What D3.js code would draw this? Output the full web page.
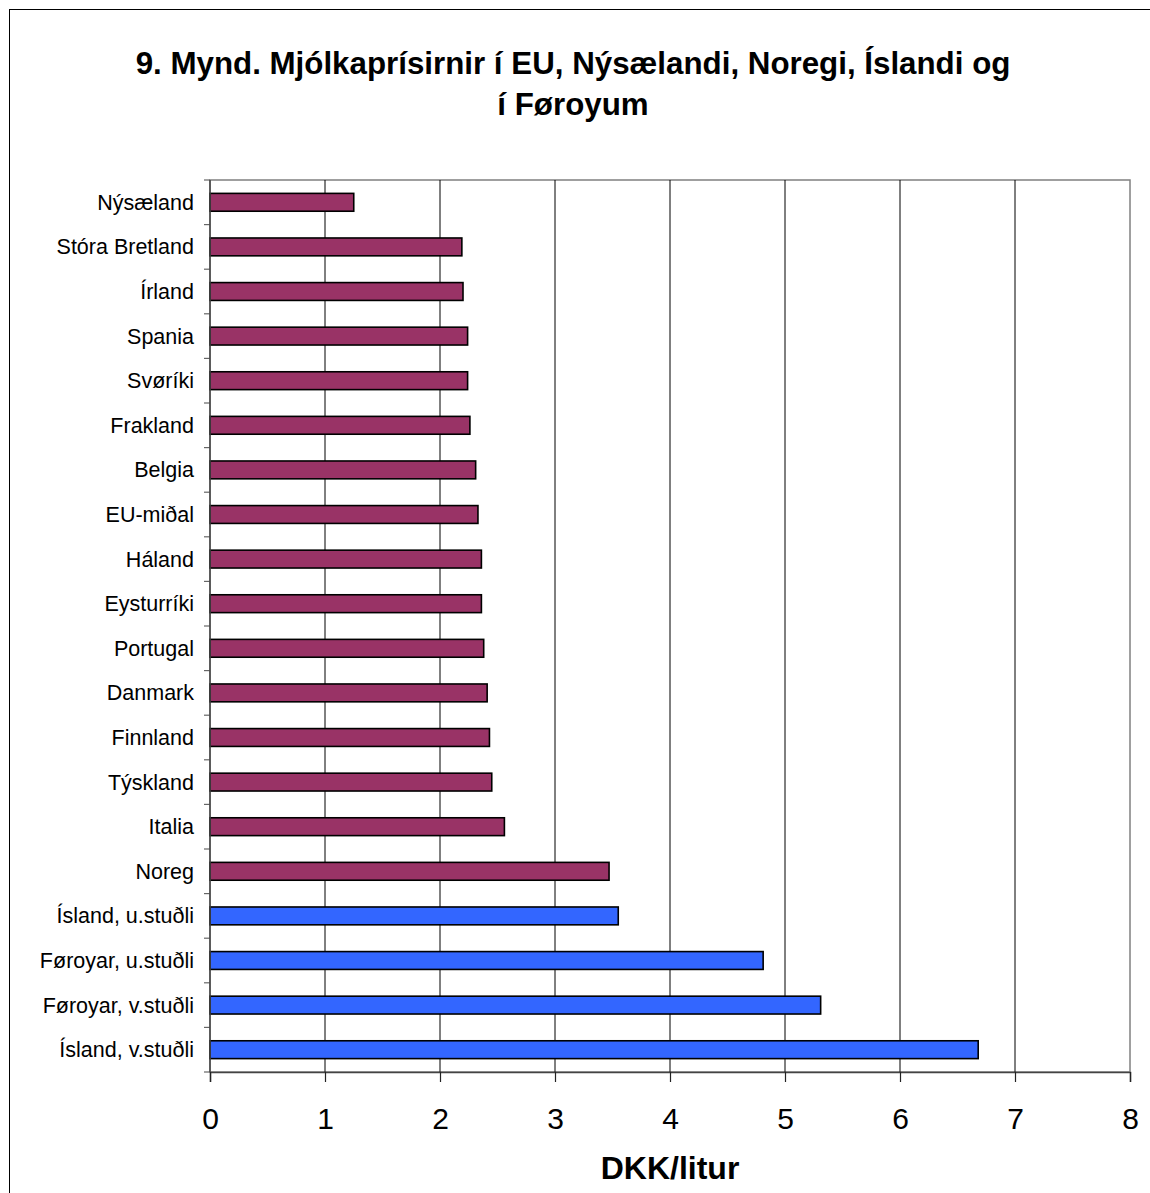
<!DOCTYPE html>
<html>
<head>
<meta charset="utf-8">
<script src="https://cdn.jsdelivr.net/npm/d3@7"></script>
<style>
  body { margin: 0; background: #fff; }
  svg text { font-family: "Liberation Sans", Arial, sans-serif; }
</style>
</head>
<body>
<svg id="chart" width="1150" height="1193"></svg>
<script>
// Data
var countries = ["Nýsæland", "Stóra Bretland", "Írland", "Spania", "Svøríki", "Frakland",
    "Belgia", "EU-miðal", "Háland", "Eysturríki", "Portugal", "Danmark", "Finnland",
    "Týskland", "Italia", "Noreg", "Ísland, u.stuðli", "Føroyar, u.stuðli",
    "Føroyar, v.stuðli", "Ísland, v.stuðli"];
var prices = [1.25, 2.19, 2.20, 2.24, 2.24, 2.26, 2.31, 2.33, 2.36, 2.36, 2.38, 2.41,
    2.43, 2.45, 2.56, 3.47, 3.55, 4.81, 5.31, 6.68];
var groups = ["other", "other", "other", "other", "other", "other", "other", "other",
    "other", "other", "other", "other", "other", "other", "other", "other",
    "fo", "fo", "fo", "fo"];
var xTicks = [0, 1, 2, 3, 4, 5, 6, 7, 8];
var titleLines = ["9. Mynd. Mjólkaprísirnir í EU, Nýsælandi, Noregi, Íslandi og", "í Føroyum"];
var xTitle = "DKK/litur";

var colors = { other: "#993366", fo: "#3366FF" };

var svg = d3.select("#chart");
var margin = { left: 210, right: 1130, top: 180, bottom: 1072 };

// outer frame
svg.append("rect")
    .attr("x", 9.5).attr("y", 9.5)
    .attr("width", 1160).attr("height", 1200)
    .attr("fill", "none").attr("stroke", "#000").attr("stroke-width", 1);

// title
svg.selectAll(".title")
    .data(titleLines)
    .enter().append("text")
    .attr("class", "title")
    .attr("x", 573)
    .attr("y", function(d, i) { return 74 + i * 41; })
    .attr("text-anchor", "middle")
    .attr("font-size", 31.3)
    .attr("font-weight", "bold")
    .text(function(d) { return d; });

var x = d3.scaleLinear().domain([0, 8]).range([margin.left, margin.right]);
var y = d3.scaleBand().domain(countries).range([margin.top, margin.bottom]).paddingInner(0.6).paddingOuter(0.3);

// plot frame
svg.append("rect")
    .attr("x", margin.left).attr("y", margin.top)
    .attr("width", margin.right - margin.left)
    .attr("height", margin.bottom - margin.top)
    .attr("fill", "none").attr("stroke", "#808080").attr("stroke-width", 1.5);

// vertical gridlines
svg.selectAll(".grid")
    .data(xTicks.slice(1, -1))
    .enter().append("line")
    .attr("class", "grid")
    .attr("x1", function(d) { return x(d); })
    .attr("x2", function(d) { return x(d); })
    .attr("y1", margin.top).attr("y2", margin.bottom)
    .attr("stroke", "#000").attr("stroke-width", 1);

// bars
svg.selectAll(".bar")
    .data(countries)
    .enter().append("rect")
    .attr("class", "bar")
    .attr("x", x(0))
    .attr("y", function(d) { return y(d); })
    .attr("width", function(d, i) { return x(prices[i]) - x(0); })
    .attr("height", y.bandwidth())
    .attr("fill", function(d, i) { return colors[groups[i]]; })
    .attr("stroke", "#000").attr("stroke-width", 1.6);

// y axis: ticks between categories
var yBounds = d3.range(countries.length + 1).map(function(i) { return margin.top + i * (margin.bottom - margin.top) / countries.length; });
svg.selectAll(".ytick")
    .data(yBounds)
    .enter().append("line")
    .attr("class", "ytick")
    .attr("x1", margin.left - 6).attr("x2", margin.left)
    .attr("y1", function(d) { return d; }).attr("y2", function(d) { return d; })
    .attr("stroke", "#666").attr("stroke-width", 1.2);
svg.append("line")
    .attr("x1", margin.left).attr("x2", margin.left)
    .attr("y1", margin.top).attr("y2", margin.bottom)
    .attr("stroke", "#444").attr("stroke-width", 1.5);

svg.selectAll(".ylabel")
    .data(countries)
    .enter().append("text")
    .attr("class", "ylabel")
    .attr("x", 194)
    .attr("y", function(d) { return y(d) + y.bandwidth() / 2; })
    .attr("dy", "0.35em")
    .attr("text-anchor", "end")
    .attr("font-size", 21.5)
    .text(function(d) { return d; });

// x axis
var xAxis = d3.axisBottom(x).tickValues(xTicks).tickSize(10).tickPadding(26).tickFormat(d3.format("d"));
var gx = svg.append("g")
    .attr("transform", "translate(0," + margin.bottom + ")")
    .call(xAxis);
gx.select(".domain").attr("stroke", "#444").attr("stroke-width", 1.5);
gx.selectAll(".tick line").attr("stroke", "#222").attr("stroke-width", 1.2);
gx.selectAll(".tick text")
    .attr("font-size", 30)
    .attr("fill", "#000");

svg.append("text")
    .attr("x", (margin.left + margin.right) / 2)
    .attr("y", 1179)
    .attr("text-anchor", "middle")
    .attr("font-size", 32)
    .attr("font-weight", "bold")
    .text(xTitle);
</script>
</body>
</html>
